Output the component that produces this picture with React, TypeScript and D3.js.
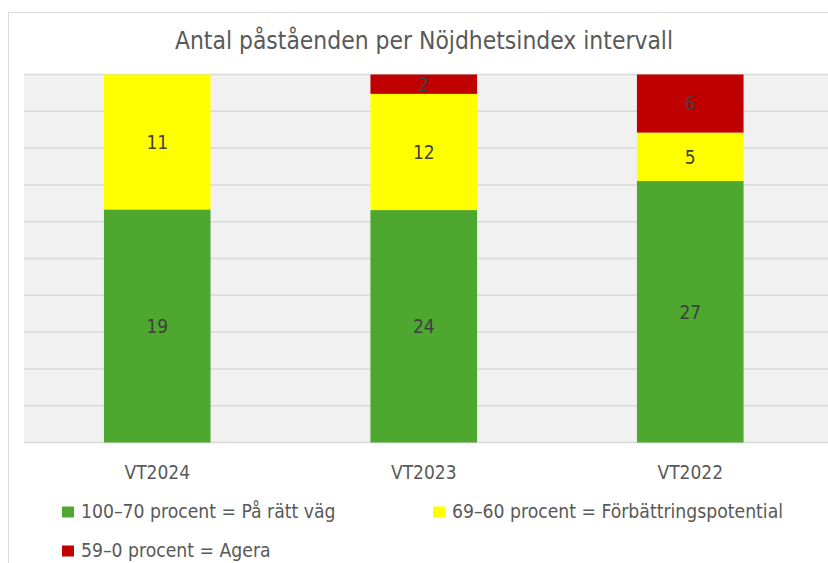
import { useEffect, useRef } from 'react';
import * as d3 from 'd3';

const categories = ['VT2024', 'VT2023', 'VT2022'];
const seriesNames = [
  '100–70 procent = På rätt väg',
  '69–60 procent = Förbättringspotential',
  '59–0 procent = Agera',
];
const greenValues = [19, 24, 27];
const yellowValues = [11, 12, 5];
const redValues = [0, 2, 6];
const seriesColors = ['#4ea72e', '#ffff00', '#c00000'];
const yTicks = d3.range(0, 1.01, 0.1);

const FONT = '"Liberation Sans Narrow", "DejaVu Sans Condensed", "Roboto", sans-serif';

export default function App() {
  const svgRef = useRef<SVGSVGElement>(null);
  const width = 828;
  const height = 563;

  useEffect(() => {
    if (!svgRef.current) return;
    const svg = d3.select(svgRef.current);
    svg.selectAll('*').remove();

    const margin = { top: 74.5, left: 24, right: 4.5, bottom: 120.5 };
    const x0 = margin.left;
    const x1 = width - margin.right;
    const yTop = margin.top;
    const yBottom = height - margin.bottom;

    // chart frame
    svg.append('rect')
      .attr('x', 8.5).attr('y', 12.5)
      .attr('width', 1000).attr('height', 1000)
      .attr('fill', '#fff')
      .attr('stroke', '#d9d9d9')
      .attr('stroke-width', 1);

    svg.append('text')
      .attr('x', 424).attr('y', 49)
      .attr('text-anchor', 'middle')
      .attr('fill', '#595959')
      .style('font-family', FONT)
      .style('font-size', '24.4px')
      .text('Antal påståenden per Nöjdhetsindex intervall');

    const x = d3.scaleBand<string>()
      .domain(categories)
      .range([x0, x1])
      .paddingInner(0.6)
      .paddingOuter(0.3);

    const y = d3.scaleLinear().domain([0, 1]).range([yBottom, yTop]);

    svg.append('rect')
      .attr('x', x0).attr('y', yTop)
      .attr('width', width - x0).attr('height', yBottom - yTop)
      .attr('fill', '#f1f1f1');

    svg.append('g')
      .selectAll('line')
      .data(yTicks)
      .enter().append('line')
      .attr('x1', x0).attr('x2', width)
      .attr('y1', d => y(d)).attr('y2', d => y(d))
      .attr('stroke', '#d9d9d9')
      .attr('stroke-width', 1.5);

    const rows = categories.map((c, i) => {
      const total = greenValues[i] + yellowValues[i] + redValues[i];
      return {
        cat: c,
        g: greenValues[i] / total,
        yl: yellowValues[i] / total,
        r: redValues[i] / total,
        raw: [greenValues[i], yellowValues[i], redValues[i]],
      };
    });

    const stack = d3.stack<any>().keys(['g', 'yl', 'r']);
    const layers = stack(rows);

    layers.forEach((layer, li) => {
      const grp = svg.append('g');
      grp.selectAll('rect')
        .data(layer)
        .enter().append('rect')
        .attr('x', d => x(d.data.cat)!)
        .attr('width', x.bandwidth())
        .attr('y', d => y(d[1]))
        .attr('height', d => y(d[0]) - y(d[1]))
        .attr('fill', seriesColors[li]);

      grp.selectAll('text')
        .data(layer.filter(d => d.data.raw[li] > 0))
        .enter().append('text')
        .attr('x', d => x(d.data.cat)! + x.bandwidth() / 2)
        .attr('y', d => (y(d[0]) + y(d[1])) / 2)
        .attr('dy', '0.36em')
        .attr('text-anchor', 'middle')
        .attr('fill', '#404040')
        .style('font-family', FONT)
        .style('font-size', '19px')
        .text(d => d.data.raw[li]);
    });

    // category labels
    svg.append('g')
      .selectAll('text')
      .data(categories)
      .enter().append('text')
      .attr('x', d => x(d)! + x.bandwidth() / 2)
      .attr('y', 479)
      .attr('text-anchor', 'middle')
      .attr('fill', '#595959')
      .style('font-family', FONT)
      .style('font-size', '19px')
      .text(d => d);

    // legend
    const legendPos = [
      { x: 62, y: 506.5 },
      { x: 433, y: 506.5 },
      { x: 62, y: 545.5 },
    ];
    const lg = svg.append('g')
      .selectAll('g')
      .data(seriesNames)
      .enter().append('g')
      .attr('transform', (_, i) => `translate(${legendPos[i].x},${legendPos[i].y})`);
    lg.append('rect')
      .attr('width', 12).attr('height', 11)
      .attr('fill', (_, i) => seriesColors[i]);
    lg.append('text')
      .attr('x', 19).attr('y', 11.5)
      .attr('fill', '#595959')
      .style('font-family', FONT)
      .style('font-size', '19.2px')
      .text(d => d);
  }, []);

  return (
    <svg
      ref={svgRef}
      width={width}
      height={height}
      style={{ position: 'absolute', left: 0, top: 0, background: '#fff' }}
    />
  );
}
